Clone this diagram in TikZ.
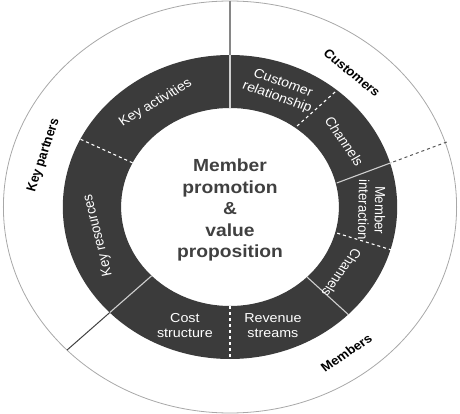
\documentclass[tikz,border=0pt]{standalone}
\usepackage{fontspec}
\setmainfont{Liberation Sans}
\definecolor{ringcol}{HTML}{3B3B3B}
\definecolor{ringgray}{HTML}{CFCFCF}
\definecolor{outergray}{HTML}{A8A8A8}
\definecolor{centertext}{HTML}{404040}
\begin{document}
\begin{tikzpicture}[x=1pt,y=1pt,
  wtext/.style={text=white, font=\fontsize{13}{15}\selectfont, align=center, transform shape, inner sep=0pt},
  otext/.style={text=black, font=\fontsize{12.3}{15}\selectfont\bfseries, transform shape, inner sep=0pt},
  ringline/.style={draw=ringgray, line width=1.1pt},
  ringdash/.style={draw=white, line width=1.1pt, dash pattern=on 3pt off 3pt}]
\useasboundingbox (-230,-207) rectangle (230,207);
\begin{scope}[xscale=1.1]
  % outer thin circle
  \draw[outergray, line width=0.8pt] (0,0) circle[radius=206pt];
  % dark ring
  \fill[ringcol, even odd rule] (0,0) circle[radius=152pt] (0,0) circle[radius=99pt];
  % top vertical divider
  \draw[draw=outergray!80!black, line width=1.3pt] (90:206) -- (90:152);
  \draw[ringline] (90:152) -- (90:99);
  % customer relationship / channels
  \draw[ringdash] (95.5,115) -- (60,80);
  % customers / members divider
  \draw[draw=black!65, line width=1pt, dash pattern=on 3pt off 3pt] (197,65) -- (147,44.5);
  \draw[ringline] (147,44.5) -- (97,24);
  % member interaction / channels
  \draw[ringdash] (147,-43) -- (97,-26);
  % channels / revenue
  \draw[ringline] (-45:99) -- (-45:152);
  % cost / revenue
  \draw[ringdash] (-90:99) -- (-90:152);
  % key resources / cost
  \draw[ringline] (224:99) -- (224:152);
  \draw[draw=black!75, line width=1pt] (224:152) -- (224:206);
  % key activities / key resources
  \draw[ringdash] (153.5:99) -- (153.5:152);

  % ring texts
  \node[wtext, rotate=33] (ka) at (123:124) {Key activities};
  \node[wtext, rotate=-21] (cr) at (68.7:125) {Customer\\relationship};
  \node[wtext, rotate=-58] (ch1) at (32.3:123) {Channels};
  \node[wtext, rotate=-91] (mi) at (-1.3:129) {Member\\interaction};
  \node[wtext, rotate=-123] (ch2) at (-33:121) {Channels};
  \node[wtext, rotate=103] (kr) at (193.3:123) {Key resources};
  \node[wtext] (cs) at (-41,-119) {Cost\\structure};
  \node[wtext] (rs) at (39,-119) {Revenue\\streams};

  % outer labels
  \node[otext, rotate=-42] (cust) at (50.4:174) {Customers};
  \node[otext, rotate=73] (kp) at (163:177) {Key partners};
  \node[otext, rotate=36] (mem) at (-54:180) {Members};

  % centre text
  \node[text=centertext, font=\fontsize{17.5}{21.5}\selectfont\bfseries, align=center, transform shape, inner sep=0pt] (vp) at (0,-3) {Member\\promotion\\\&\\value\\proposition};
\end{scope}
\end{tikzpicture}
\end{document}
